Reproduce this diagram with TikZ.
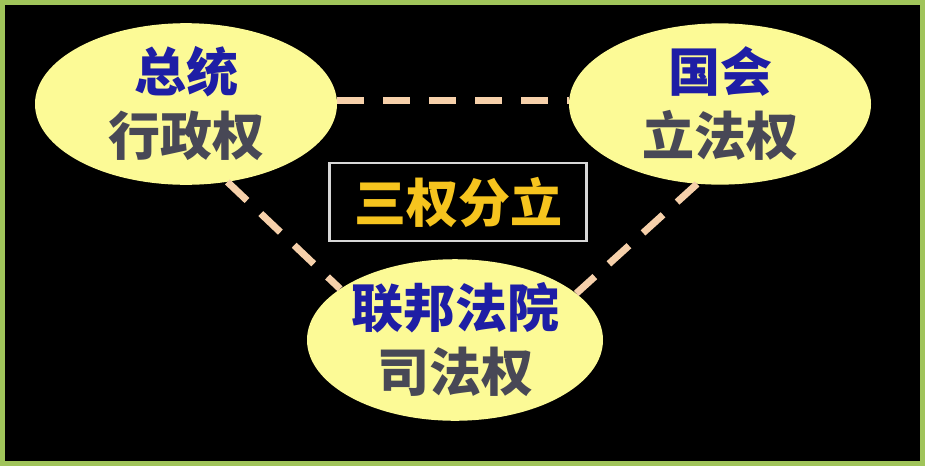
\documentclass[tikz,border=0pt]{standalone}
\usepackage{fontspec}
\newfontfamily\cjk{Noto Sans CJK SC}
\usetikzlibrary{shapes.geometric}
\definecolor{framegreen}{RGB}{160,196,90}
\definecolor{ellfill}{RGB}{252,250,150}
\definecolor{titleblue}{RGB}{30,30,165}
\definecolor{powgray}{RGB}{72,72,86}
\definecolor{dashpeach}{RGB}{246,208,170}
\definecolor{boxgold}{RGB}{246,196,30}
\definecolor{boxline}{RGB}{215,215,215}
\tikzset{
  branch/.style={ellipse, fill=ellfill, minimum width=302pt, minimum height=154pt, inner sep=0pt,
    align=center, font=\cjk\bfseries\fontsize{52}{64}\selectfont},
  link/.style={draw=dashpeach, line width=7pt, dash pattern=on 27pt off 19pt},
  titlebox/.style={draw=boxline, line width=2.5pt, fill=black, minimum width=257pt, minimum height=78pt,
    inner sep=0pt, text=boxgold, font=\cjk\bfseries\fontsize{52}{56}\selectfont}
}
\begin{document}
\begin{tikzpicture}[x=1pt,y=-1pt]
\useasboundingbox (0,0) rectangle (925,466);
\fill[black] (0,0) rectangle (925,466);
\draw[framegreen, line width=5pt] (2.5,2.5) rectangle (922.5,463.5);
\node[branch] (L) at (186,104) {\textcolor{titleblue}{总统}\\\textcolor{powgray}{行政权}};
\node[branch] (R) at (720,104) {\textcolor{titleblue}{国会}\\\textcolor{powgray}{立法权}};
\node[branch, minimum width=296pt, minimum height=156pt] (B) at (455,340) {\textcolor{titleblue}{联邦法院}\\\textcolor{powgray}{司法权}};
\node[titlebox] (T) at (458,202) {三权分立};
\draw[link] ([yshift=4pt]L.east) -- ([yshift=4pt]R.west);
\draw[link] (L.-62) -- (B.156);
\draw[link] (R.-106) -- (B.21);
\end{tikzpicture}
\end{document}
